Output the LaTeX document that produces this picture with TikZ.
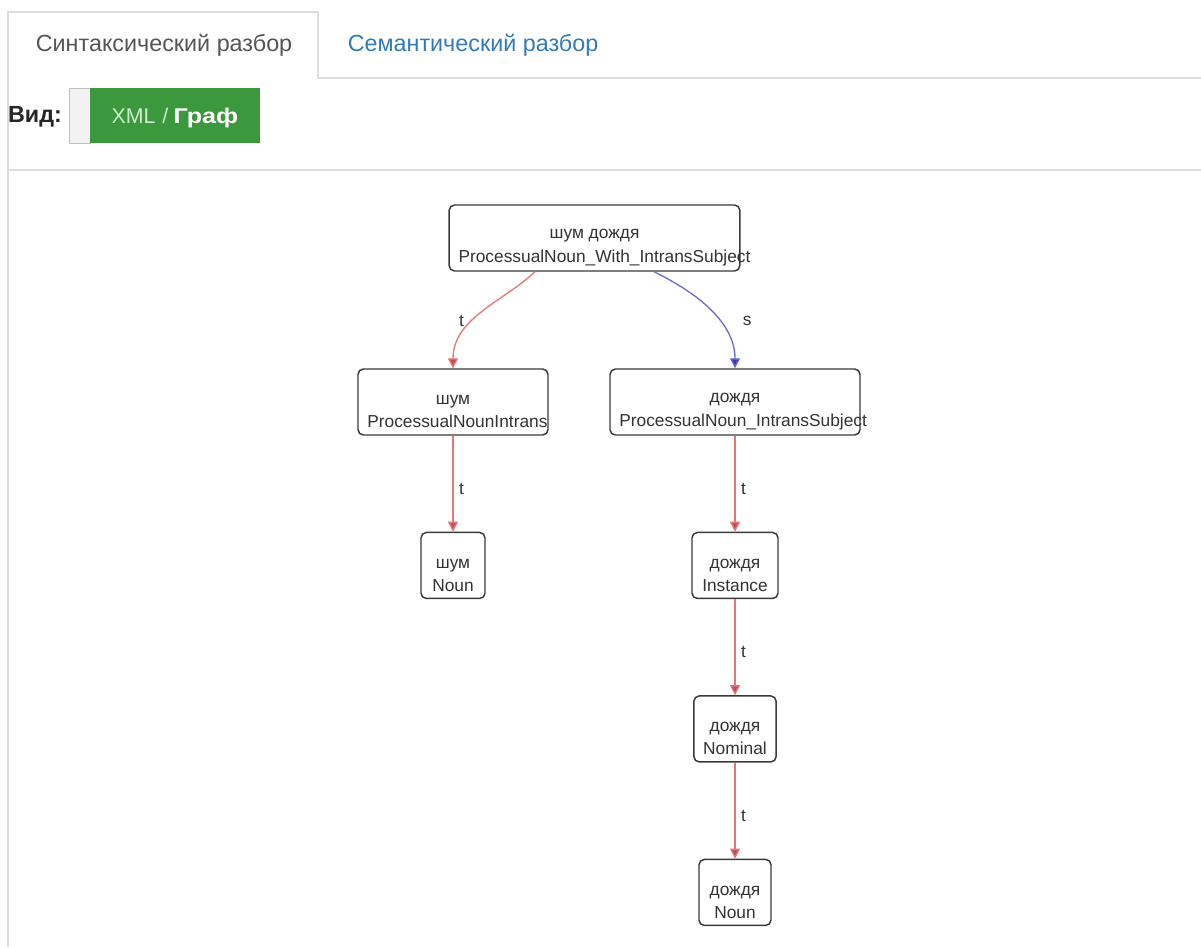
\documentclass[tikz,border=0pt]{standalone}
\usepackage{fontspec}
\setmainfont{Liberation Sans}
\usepackage{xcolor}
\usepackage{graphicx}
\usetikzlibrary{arrows.meta, positioning}

\definecolor{tabline}{HTML}{DDDDDD}
\definecolor{tabgrey}{HTML}{555555}
\definecolor{tabblue}{HTML}{337AB7}
\definecolor{okgreen}{HTML}{3C983C}
\definecolor{okpale}{HTML}{CDEFCD}
\definecolor{boxline}{HTML}{3A3A3A}
\definecolor{tedge}{HTML}{E57777}
\definecolor{ttip}{HTML}{C24C5C}
\definecolor{sedge}{HTML}{6B6BD6}
\definecolor{stip}{HTML}{3C3CB2}

\begin{document}
\begin{tikzpicture}[
    x=0.75pt, y=-0.75pt,
    node distance=72pt,
    gnode/.style={rectangle, rounded corners=4pt, draw=boxline, line width=1.1pt, fill=white,
        align=center, font=\fontsize{13}{17.5}\selectfont, text=black!80,
        minimum height=49.5pt, inner xsep=7pt},
    tlink/.style={draw=tedge, line width=1pt, -{Triangle[length=7.5pt, width=7.5pt, fill=ttip]}},
    slink/.style={draw=sedge, line width=1pt, -{Triangle[length=7.5pt, width=7.5pt, fill=stip]}},
    elabel/.style={font=\fontsize{13}{15}\selectfont, text=black!80, inner sep=0pt}
]
\useasboundingbox (0,0) rectangle (1201,947);

% tabs and panel
\draw[tabline, line width=0.9pt] (8,947) -- (8,12) -- (318,12) -- (318,78) -- (1201,78);
\draw[tabline, line width=0.9pt] (8,170) -- (1201,170);
\node[text=tabgrey, font=\fontsize{17.5}{20}\selectfont] (tabsyn) at (164,45) {Синтаксический разбор};
\node[text=tabblue, font=\fontsize{17.5}{20}\selectfont] (tabsem) at (473,45) {Семантический разбор};

% view switch
\node[font=\bfseries\fontsize{17.5}{20}\selectfont, text=black!85] (vid) at (35,117) {Вид:};
\fill[black!5] (69,88) rectangle (90,143);
\draw[black!25, line width=0.6pt] (69,88) rectangle (90,143);
\fill[okgreen] (90,88) rectangle (260,143);
\node[font=\fontsize{16}{20}\selectfont] (xmlgraf) at (175,118) {\textcolor{okpale}{XML\hspace{5pt}/}\hspace{4pt}\textcolor{white}{\bfseries\scalebox{1.18}[1]{Граф}}};

% graph
\node[gnode, minimum width=218pt] (top) at (594.5,238) {\rule{0pt}{21.5pt}шум дождя\\\makebox[204pt][l]{ProcessualNoun\_With\_IntransSubject}};
\node[gnode, minimum width=142.5pt] (shum) at (453,402) {\rule{0pt}{21.5pt}шум\\\makebox[128.5pt][l]{ProcessualNounIntrans}};
\node[gnode, minimum width=187.5pt] (dozhd) at (735,402) {\rule{0pt}{21.5pt}дождя\\\makebox[173.5pt][l]{ProcessualNoun\_IntransSubject}};
\node[gnode, below=of shum, minimum width=48pt] (shumnoun) {\rule{0pt}{21.5pt}шум\\Noun};
\node[gnode, below=of dozhd, minimum width=64.5pt] (instance) {\rule{0pt}{21.5pt}дождя\\Instance};
\node[gnode, below=of instance, minimum width=61.5pt] (nominal) {\rule{0pt}{21.5pt}дождя\\Nominal};
\node[gnode, below=of nominal, minimum width=54pt] (dozhdnoun) {\rule{0pt}{21.5pt}дождя\\Noun};

\draw[tlink] ([xshift=-44.6pt]top.south) .. controls +(-32,30) and +(0,-50) .. node[elabel, pos=0.6, left=6pt] {t} (shum.north);
\draw[slink] ([xshift=44.6pt]top.south) .. controls +(45,22) and +(0,-45) .. node[elabel, pos=0.6, right=17pt] {s} (dozhd.north);
\draw[tlink] (shum) -- node[elabel, pos=0.55, right=4pt] {t} (shumnoun);
\draw[tlink] (dozhd) -- node[elabel, pos=0.55, right=4pt] {t} (instance);
\draw[tlink] (instance) -- node[elabel, pos=0.55, right=4pt] {t} (nominal);
\draw[tlink] (nominal) -- node[elabel, pos=0.55, right=4pt] {t} (dozhdnoun);
\end{tikzpicture}
\end{document}
